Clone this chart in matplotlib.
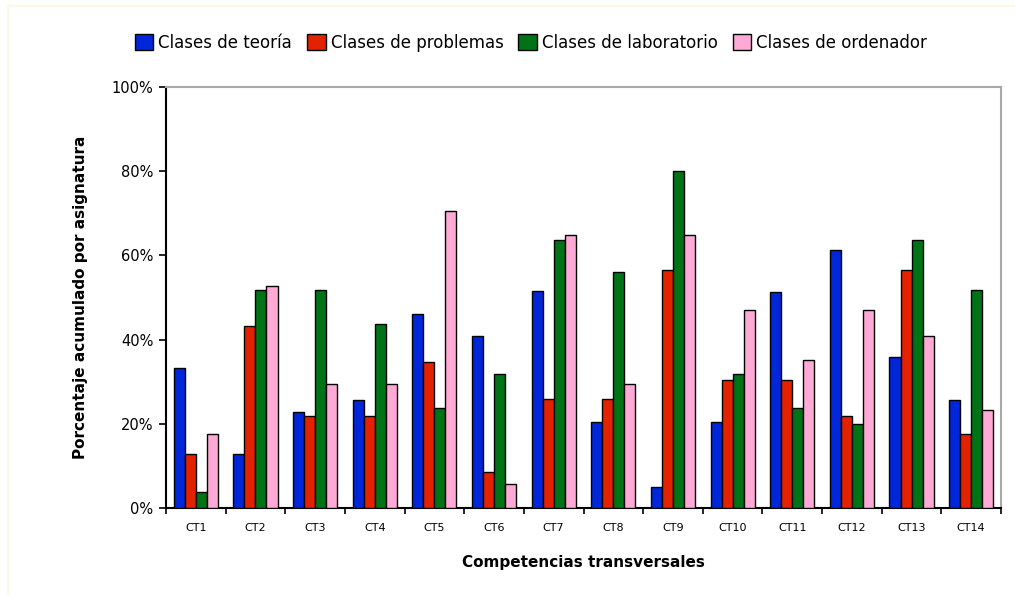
import matplotlib
matplotlib.use("Agg")
import matplotlib.pyplot as plt
import numpy as np
from matplotlib.lines import Line2D
from matplotlib.ticker import FuncFormatter, FixedLocator

categories = ["CT1", "CT2", "CT3", "CT4", "CT5", "CT6", "CT7",
              "CT8", "CT9", "CT10", "CT11", "CT12", "CT13", "CT14"]

teoria = [33.3, 12.8, 22.8, 25.7, 46.1, 40.9, 51.5, 20.4, 5.1, 20.4, 51.4, 61.4, 35.8, 25.7]
problemas = [12.8, 43.2, 21.8, 21.8, 34.7, 8.5, 26.0, 26.0, 56.5, 30.4, 30.4, 21.8, 56.6, 17.6]
laboratorio = [3.8, 51.9, 51.9, 43.7, 23.7, 31.9, 63.7, 56.1, 80.0, 31.8, 23.7, 20.0, 63.7, 51.9]
ordenador = [17.6, 52.8, 29.5, 29.5, 70.5, 5.6, 64.8, 29.5, 64.8, 47.1, 35.2, 47.1, 40.9, 23.3]

series = [
    ("Clases de teoría", teoria, "#0026d9"),
    ("Clases de problemas", problemas, "#e32200"),
    ("Clases de laboratorio", laboratorio, "#007316"),
    ("Clases de ordenador", ordenador, "#ffaad6"),
]

fig = plt.figure(figsize=(10.15, 5.95), dpi=100)
ax = fig.add_axes([166 / 1015, (595 - 508) / 595, (1001 - 166) / 1015, (508 - 87) / 595])

x = np.arange(len(categories))
width = 0.185
for i, (name, vals, color) in enumerate(series):
    ax.bar(x + (i - 1.5) * width, vals, width, color=color, edgecolor="black",
           linewidth=1.0, label=name, zorder=3)

ax.set_xlim(-0.5, len(categories) - 0.5)
ax.set_ylim(0, 100)

ax.yaxis.set_major_locator(FixedLocator([0, 20, 40, 60, 80, 100]))
ax.yaxis.set_major_formatter(FuncFormatter(lambda v, p: f"{int(v)}%"))
ax.tick_params(axis="y", direction="out", length=5, width=1.2, labelsize=10.5, pad=4)

ax.set_xticks(x)
ax.set_xticklabels(categories, fontsize=8)
ax.tick_params(axis="x", which="major", length=0, pad=11)
ax.set_xticks(np.arange(-0.5, len(categories)), minor=True)
ax.tick_params(axis="x", which="minor", direction="out", length=4, width=1.2)

for side in ("left", "bottom"):
    ax.spines[side].set_color("black")
    ax.spines[side].set_linewidth(1.5)
for side in ("top", "right"):
    ax.spines[side].set_color("#a8a8a8")
    ax.spines[side].set_linewidth(1.5)

ax.set_ylabel("Porcentaje acumulado por asignatura", fontsize=11, fontweight="bold", labelpad=17)
ax.set_xlabel("Competencias transversales", fontsize=11, fontweight="bold", labelpad=16)

fig.legend(loc="center", bbox_to_anchor=(531 / 1015, 1 - 43 / 595), ncol=4,
           frameon=False, fontsize=12, handlelength=1.1, handleheight=1.1,
           handletextpad=0.3, columnspacing=0.9, borderaxespad=0)

# thin pale frame around the figure area
frame_color = "#fdf8e6"
fig.add_artist(Line2D([8 / 1015, 8 / 1015], [0, 1 - 6 / 595], color=frame_color,
                      linewidth=1.5, transform=fig.transFigure))
fig.add_artist(Line2D([8 / 1015, 1], [1 - 6 / 595, 1 - 6 / 595], color=frame_color,
                      linewidth=1.5, transform=fig.transFigure))

fig.savefig("out.png", dpi=100)
